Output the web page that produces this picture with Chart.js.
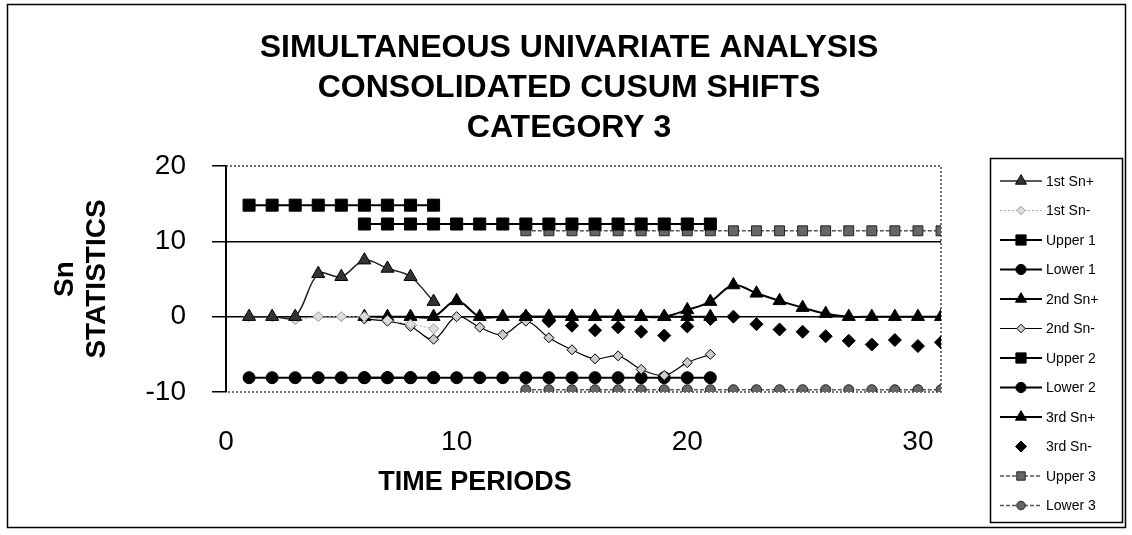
<!DOCTYPE html>
<html>
<head>
<meta charset="utf-8">
<script src="https://cdn.jsdelivr.net/npm/chart.js@4.4.0/dist/chart.umd.min.js"></script>
<style>
  html, body { margin: 0; padding: 0; background: #fff; }
  #wrap { width: 1132px; height: 535px; position: relative; }
</style>
</head>
<body>
<div id="wrap"><canvas id="cusumChart"></canvas></div>
<script>
// time periods covered by each phase
const periods1 = [1, 2, 3, 4, 5, 6, 7, 8, 9];
const periods2 = [6, 7, 8, 9, 10, 11, 12, 13, 14, 15, 16, 17, 18, 19, 20, 21];
const periods3 = [13, 14, 15, 16, 17, 18, 19, 20, 21, 22, 23, 24, 25, 26, 27, 28, 29, 30, 31];

// phase 1
const sn1Plus  = [0, 0, 0, 5.7, 5.3, 7.5, 6.4, 5.3, 2.0];
const sn1Minus = [0, 0, -0.4, 0, 0, 0, -0.5, -1.0, -1.6];
const upper1   = [14.8, 14.8, 14.8, 14.8, 14.8, 14.8, 14.8, 14.8, 14.8];
const lower1   = [-8.1, -8.1, -8.1, -8.1, -8.1, -8.1, -8.1, -8.1, -8.1];

// phase 2
const sn2Plus  = [0, 0, 0, 0, 2.1, 0, 0, 0, 0, 0, 0, 0, 0, 0, 0, 0];
const sn2Minus = [-0.3, -0.6, -1.3, -3.0, 0, -1.4, -2.4, -0.6, -2.8, -4.4, -5.6, -5.2, -7.0, -7.8, -6.1, -5.0];
const upper2   = [12.3, 12.3, 12.3, 12.3, 12.3, 12.3, 12.3, 12.3, 12.3, 12.3, 12.3, 12.3, 12.3, 12.3, 12.3, 12.3];
const lower2   = [-8.1, -8.1, -8.1, -8.1, -8.1, -8.1, -8.1, -8.1, -8.1, -8.1, -8.1, -8.1, -8.1, -8.1, -8.1, -8.1];

// phase 3
const sn3Plus  = [0, 0, 0, 0, 0, 0, 0, 0.9, 2.0, 4.2, 3.1, 2.1, 1.2, 0.4, 0, 0, 0, 0, 0];
const sn3Minus = [0, -0.6, -1.2, -1.8, -1.4, -2.0, -2.5, -1.3, -0.3, 0, -1.0, -1.7, -2.0, -2.6, -3.2, -3.7, -3.1, -3.9, -3.4];
const upper3   = [11.4, 11.4, 11.4, 11.4, 11.4, 11.4, 11.4, 11.4, 11.4, 11.4, 11.4, 11.4, 11.4, 11.4, 11.4, 11.4, 11.4, 11.4, 11.4];
const lower3   = [-9.7, -9.7, -9.7, -9.7, -9.7, -9.7, -9.7, -9.7, -9.7, -9.7, -9.7, -9.7, -9.7, -9.7, -9.7, -9.7, -9.7, -9.7, -9.7];

const xTicks = [0, 10, 20, 30];
const yTicks = [-10, 0, 10, 20];
const titleLines = ['SIMULTANEOUS UNIVARIATE ANALYSIS', 'CONSOLIDATED CUSUM SHIFTS', 'CATEGORY 3'];

const FONT = '"Liberation Sans", Arial, sans-serif';

const toPoints = (xs, ys) => xs.map((x, i) => ({ x: x, y: ys[i] }));

const series = (label, xs, ys, style) => Object.assign({
    label: label,
    data: toPoints(xs, ys),
    borderColor: '#000',
    backgroundColor: '#000',
    pointBorderColor: '#000',
    borderWidth: 2,
    pointBorderWidth: 1,
    tension: 0.35,
    showLine: true
}, style);

const datasets = [
    series('1st Sn+', periods1, sn1Plus, { pointStyle: 'triangle', pointRadius: 7.5, borderColor: '#222', backgroundColor: '#333', borderWidth: 1.5 }),
    series('1st Sn-', periods1, sn1Minus, { pointStyle: 'rectRot', pointRadius: 5, borderColor: '#aaa', backgroundColor: '#ddd', pointBorderColor: '#999', borderWidth: 1, borderDash: [2, 2] }),
    series('Upper 1', periods1, upper1, { pointStyle: 'rect', pointRadius: 8.5 }),
    series('Lower 1', periods1, lower1, { pointStyle: 'circle', pointRadius: 6 }),
    series('2nd Sn+', periods2, sn2Plus, { pointStyle: 'triangle', pointRadius: 7.5 }),
    series('2nd Sn-', periods2, sn2Minus, { pointStyle: 'rectRot', pointRadius: 5, backgroundColor: '#ccc', borderWidth: 1.2 }),
    series('Upper 2', periods2, upper2, { pointStyle: 'rect', pointRadius: 8.5 }),
    series('Lower 2', periods2, lower2, { pointStyle: 'circle', pointRadius: 6 }),
    series('3rd Sn+', periods3, sn3Plus, { pointStyle: 'triangle', pointRadius: 7.5 }),
    series('3rd Sn-', periods3, sn3Minus, { pointStyle: 'rectRot', pointRadius: 6.5, showLine: false }),
    series('Upper 3', periods3, upper3, { pointStyle: 'rect', pointRadius: 7, borderColor: '#555', backgroundColor: '#666', pointBorderColor: '#222', borderWidth: 1.5, borderDash: [4, 2] }),
    series('Lower 3', periods3, lower3, { pointStyle: 'circle', pointRadius: 5, borderColor: '#555', backgroundColor: '#666', pointBorderColor: '#222', borderWidth: 1.5, borderDash: [4, 2] })
];

// same shapes as Chart.js uses, for the legend samples
const drawMarker = (ctx, style, r, x, y) => {
    ctx.beginPath();
    if (style === 'rect') {
        const s = r * Math.SQRT1_2;
        ctx.rect(x - s, y - s, 2 * s, 2 * s);
    } else if (style === 'circle') {
        ctx.arc(x, y, r, 0, Math.PI * 2);
    } else if (style === 'triangle') {
        ctx.moveTo(x, y - r);
        ctx.lineTo(x + r * 0.866, y + r / 2);
        ctx.lineTo(x - r * 0.866, y + r / 2);
    } else {
        ctx.moveTo(x - r, y);
        ctx.lineTo(x, y - r);
        ctx.lineTo(x + r, y);
        ctx.lineTo(x, y + r);
    }
    ctx.closePath();
    ctx.fill();
    ctx.stroke();
};

const decorPlugin = {
    id: 'decor',
    beforeDraw(chart) {
        const ctx = chart.ctx;
        ctx.save();
        ctx.fillStyle = '#fff';
        ctx.fillRect(0, 0, chart.width, chart.height);
        ctx.strokeStyle = '#000';
        ctx.lineWidth = 1.5;
        ctx.strokeRect(7.5, 4.5, 1118, 523);
        ctx.restore();
    },
    beforeDatasetsDraw(chart) {
        const ctx = chart.ctx;
        const a = chart.chartArea;
        ctx.save();
        ctx.strokeStyle = '#444';
        ctx.lineWidth = 1.5;
        ctx.setLineDash([2, 2]);
        ctx.beginPath();
        ctx.moveTo(a.left, a.top);
        ctx.lineTo(a.right, a.top);
        ctx.lineTo(a.right, a.bottom);
        ctx.lineTo(a.left, a.bottom);
        ctx.stroke();
        ctx.restore();
    },
    afterDraw(chart) {
        const ctx = chart.ctx;
        ctx.save();
        ctx.fillStyle = '#000';
        ctx.textAlign = 'center';
        ctx.textBaseline = 'middle';
        ctx.font = 'bold 32px ' + FONT;
        titleLines.forEach((t, i) => ctx.fillText(t, 569, 48 + i * 40));

        ctx.font = 'bold 27px ' + FONT;
        ctx.fillText('TIME PERIODS', 475, 483);

        // legend
        ctx.lineWidth = 1.5;
        ctx.strokeStyle = '#000';
        ctx.strokeRect(990.5, 158.5, 132, 364);
        ctx.font = '14px ' + FONT;
        ctx.textAlign = 'left';
        chart.data.datasets.forEach((ds, i) => {
            const y = 181 + i * 29.5;
            if (ds.showLine !== false) {
                ctx.save();
                ctx.strokeStyle = ds.borderColor;
                ctx.lineWidth = ds.borderWidth;
                ctx.setLineDash(ds.borderDash || []);
                ctx.beginPath();
                ctx.moveTo(1000, y);
                ctx.lineTo(1042, y);
                ctx.stroke();
                ctx.restore();
            }
            ctx.save();
            ctx.fillStyle = ds.backgroundColor;
            ctx.strokeStyle = ds.pointBorderColor;
            ctx.lineWidth = 1;
            drawMarker(ctx, ds.pointStyle, ds.pointRadius * 0.85, 1021, y);
            ctx.restore();
            ctx.fillText(ds.label, 1046, y + 1);
        });
        ctx.restore();
    }
};

const ctx = document.getElementById('cusumChart').getContext('2d');

new Chart(ctx, {
    type: 'scatter',
    data: { datasets: datasets },
    options: {
        responsive: true,
        maintainAspectRatio: false,
        animation: false,
        layout: { padding: { top: 166, right: 191, bottom: 8, left: 8 } },
        plugins: {
            legend: { display: false },
            title: { display: false },
            tooltip: { enabled: false }
        },
        scales: {
            x: {
                type: 'linear',
                min: 0,
                max: 31,
                afterFit: (scale) => { scale.height = 135; },
                afterBuildTicks: (scale) => { scale.ticks = xTicks.map(v => ({ value: v })); },
                grid: { display: false, drawTicks: false },
                border: { display: false },
                ticks: {
                    color: '#000',
                    padding: 33,
                    font: { family: FONT, size: 28 }
                }
            },
            y: {
                type: 'linear',
                min: -10,
                max: 20,
                afterFit: (scale) => { scale.width = 218; },
                afterBuildTicks: (scale) => { scale.ticks = yTicks.map(v => ({ value: v })); },
                grid: {
                    color: (c) => (c.tick && (c.tick.value === 0 || c.tick.value === 10)) ? '#000' : 'rgba(0,0,0,0)',
                    lineWidth: 1.5,
                    tickColor: '#000',
                    tickLength: 14
                },
                border: { display: true, color: '#000', width: 2 },
                ticks: {
                    color: '#000',
                    padding: 26,
                    font: { family: FONT, size: 28 }
                },
                title: {
                    display: true,
                    text: ['Sn', 'STATISTICS'],
                    color: '#000',
                    font: { family: FONT, size: 28, weight: 'bold', lineHeight: '32px' },
                    padding: { top: 41, bottom: 0 }
                }
            }
        }
    },
    plugins: [decorPlugin]
});
</script>
</body>
</html>
